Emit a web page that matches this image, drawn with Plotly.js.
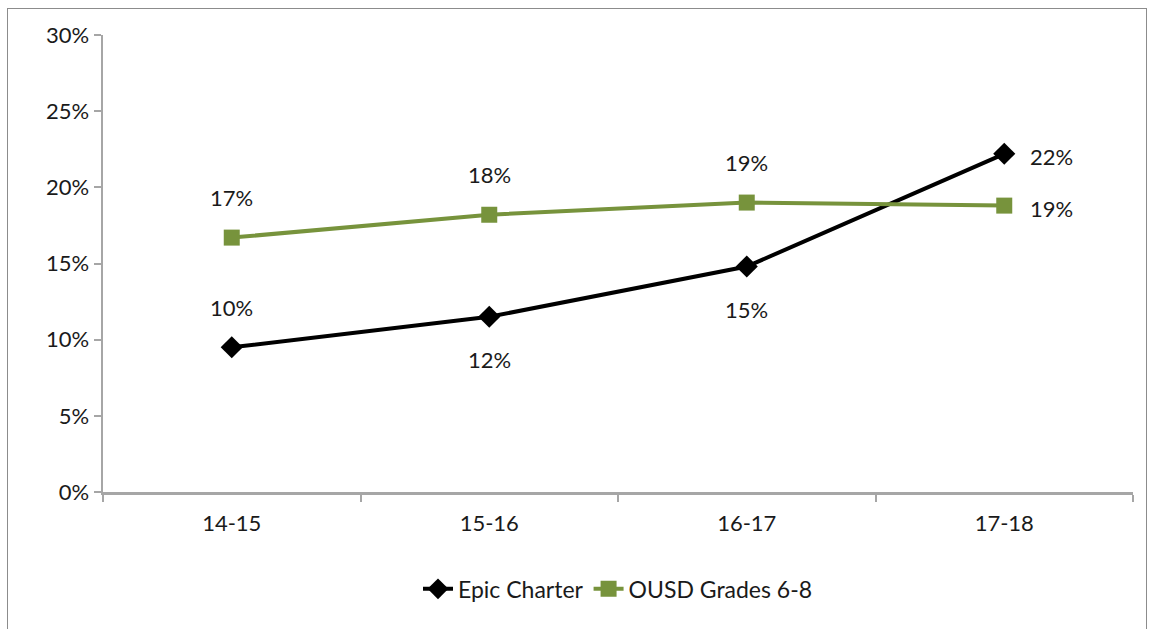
<!DOCTYPE html>
<html>
<head>
<meta charset="utf-8">
<script src="https://cdn.plot.ly/plotly-3.0.1.min.js"></script>
<style>
html,body{margin:0;padding:0;background:#fff;}
#frame{position:absolute;left:7px;top:8px;width:1140px;height:640px;border:1.5px solid #8c8c8c;box-sizing:border-box;}
#chart{position:absolute;left:0;top:0;width:1153px;height:629px;}
</style>
</head>
<body>
<div id="frame"></div>
<div id="chart"></div>
<script>
var categories = ["14-15", "15-16", "16-17", "17-18"];
var epicValues = [0.095, 0.115, 0.148, 0.222];
var ousdValues = [0.167, 0.182, 0.190, 0.188];
var epicLabels = ["10%", "12%", "15%", "22%"];
var ousdLabels = ["17%", "18%", "19%", "19%"];
var epicLabelPos = ["above", "below", "below", "right"];
var ousdLabelPos = ["above", "above", "above", "right"];
var yTickVals = [0, 0.05, 0.10, 0.15, 0.20, 0.25, 0.30];
var yTickText = ["0%", "5%", "10%", "15%", "20%", "25%", "30%"];

var fontFam = "Lato, 'Open Sans', sans-serif";
var green = "#77933C";
var txtCol = "#1a1a1a";

var traces = [
  {
    x: categories, y: epicValues, name: "Epic Charter", type: "scatter", mode: "lines+markers",
    line: {color: "#000000", width: 4},
    marker: {symbol: "diamond", size: 17, color: "#000000"}
  },
  {
    x: categories, y: ousdValues, name: "OUSD Grades 6-8", type: "scatter", mode: "lines+markers",
    line: {color: green, width: 4},
    marker: {symbol: "square", size: 16, color: green}
  }
];

function makeAnn(vals, labels, pos) {
  return vals.map(function (v, i) {
    var a = {x: categories[i], y: v, text: labels[i], showarrow: false, xref: "x", yref: "y",
      font: {family: fontFam, size: 22, color: txtCol}};
    if (pos[i] === "above") { a.yshift = 40; }
    else if (pos[i] === "below") { a.yshift = -43; }
    else { a.xshift = 47; a.yshift = -3; }
    return a;
  });
}

var layout = {
  width: 1153, height: 629,
  margin: {l: 103, r: 20, t: 35, b: 137},
  paper_bgcolor: "rgba(0,0,0,0)", plot_bgcolor: "rgba(0,0,0,0)",
  font: {family: fontFam, size: 22, color: txtCol},
  xaxis: {
    type: "category", range: [-0.5, 3.5], tickson: "boundaries",
    showline: true, linecolor: "#a6a6a6", linewidth: 2.5,
    ticks: "outside", ticklen: 7, tickcolor: "#a6a6a6", tickwidth: 2,
    ticklabelstandoff: 10,
    tickfont: {family: fontFam, size: 22, color: txtCol},
    showgrid: false, zeroline: false, fixedrange: true
  },
  yaxis: {
    range: [0, 0.30], tickvals: yTickVals, ticktext: yTickText,
    showline: true, linecolor: "#a6a6a6", linewidth: 2.5,
    ticks: "outside", ticklen: 7, tickcolor: "#a6a6a6", tickwidth: 2,
    tickfont: {family: fontFam, size: 22, color: txtCol},
    showgrid: false, zeroline: false, fixedrange: true
  },
  showlegend: true,
  legend: {orientation: "h", x: 0.5, xanchor: "center", y: -0.165, yanchor: "top",
    font: {family: fontFam, size: 23, color: txtCol}, itemwidth: 30},
  annotations: makeAnn(epicValues, epicLabels, epicLabelPos).concat(makeAnn(ousdValues, ousdLabels, ousdLabelPos))
};

Plotly.newPlot("chart", traces, layout, {displayModeBar: false, staticPlot: true});
</script>
</body>
</html>
